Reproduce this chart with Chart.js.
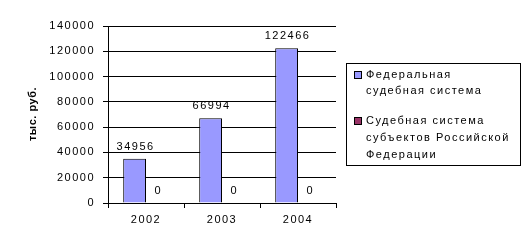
<!DOCTYPE html>
<html>
<head>
<meta charset="utf-8">
<script src="https://cdn.jsdelivr.net/npm/chart.js@4/dist/chart.umd.min.js"></script>
<style>
html,body{margin:0;padding:0;background:#fff;}
#wrap{position:relative;width:528px;height:248px;}
</style>
</head>
<body>
<div id="wrap"><canvas id="c" width="528" height="248"></canvas></div>
<script>
const categories = ['2002', '2003', '2004'];
const federalValues = [34956, 66994, 122466];
const regionalValues = [0, 0, 0];
const seriesLabels = [['Федеральная', 'судебная система'], ['Судебная система', 'субъектов Российской', 'Федерации']];
const yTickMax = 140000;
const yTickStep = 20000;
const yTitle = 'тыс. руб.';

const FONT = '"Liberation Sans", Arial, sans-serif';

const spacingPlugin = {
  id: 'spacing',
  beforeInit(chart) { chart.ctx.letterSpacing = '1.5px'; },
  beforeUpdate(chart) { chart.ctx.letterSpacing = '1.5px'; },
  beforeDraw(chart) {
    const ctx = chart.ctx;
    ctx.save();
    ctx.fillStyle = '#fff';
    ctx.fillRect(0, 0, chart.width, chart.height);
    ctx.restore();
    ctx.letterSpacing = '1.5px';
  }
};

const labelsPlugin = {
  id: 'valueLabels',
  afterDatasetsDraw(chart) {
    const ctx = chart.ctx;
    ctx.save();
    ctx.font = '11px ' + FONT;
    ctx.fillStyle = '#000';
    ctx.textAlign = 'center';
    ctx.textBaseline = 'alphabetic';
    ctx.letterSpacing = '1.5px';
    chart.data.datasets.forEach((ds, i) => {
      const meta = chart.getDatasetMeta(i);
      meta.data.forEach((bar, j) => {
        ctx.fillText(String(ds.data[j]), bar.x + 1, bar.y - 9);
      });
    });
    ctx.restore();
  },
  afterDraw(chart) {
    const ctx = chart.ctx;
    ctx.save();
    ctx.letterSpacing = '0.5px';
    ctx.font = 'bold 11px ' + FONT;
    ctx.fillStyle = '#000';
    ctx.translate(33, 114);
    ctx.rotate(-Math.PI / 2);
    ctx.textAlign = 'center';
    ctx.textBaseline = 'middle';
    ctx.fillText(yTitle, 0, 0);
    ctx.restore();

    ctx.save();
    ctx.fillStyle = '#fff';
    ctx.strokeStyle = '#000';
    ctx.lineWidth = 1;
    ctx.fillRect(346.5, 63.5, 174, 102);
    ctx.strokeRect(346.5, 63.5, 174, 102);
    ctx.font = '11px ' + FONT;
    ctx.letterSpacing = '1.5px';
    ctx.textAlign = 'left';
    ctx.textBaseline = 'middle';
    const lineCenters = [[75, 91], [121, 138, 155]];
    const markerY = [71.5, 117.5];
    chart.data.datasets.forEach((ds, i) => {
      ctx.fillStyle = ds.backgroundColor;
      ctx.fillRect(354.5, markerY[i], 7, 7);
      ctx.strokeRect(354.5, markerY[i], 7, 7);
      ctx.fillStyle = '#000';
      seriesLabels[i].forEach((line, k) => {
        ctx.fillText(line, 366, lineCenters[i][k]);
      });
    });
    ctx.restore();
  }
};

new Chart(document.getElementById('c'), {
  type: 'bar',
  data: {
    labels: categories,
    datasets: [
      { label: seriesLabels[0].join(' '), data: federalValues, backgroundColor: '#9999FF', borderColor: '#000', borderWidth: 1, categoryPercentage: 0.6, barPercentage: 1.0 },
      { label: seriesLabels[1].join(' '), data: regionalValues, backgroundColor: '#993366', borderColor: '#000', borderWidth: 1, categoryPercentage: 0.6, barPercentage: 1.0 }
    ]
  },
  options: {
    responsive: false,
    animation: false,
    devicePixelRatio: 1,
    layout: { padding: { left: 0, top: 26, right: 192, bottom: 0 } },
    plugins: { legend: { display: false }, tooltip: { enabled: false } },
    scales: {
      x: {
        afterFit(s) { s.height = 45; },
        grid: { display: true, drawOnChartArea: false, drawTicks: true, tickLength: 5, color: '#000', offset: true },
        border: { display: true, color: '#000' },
        ticks: { color: '#000', font: { family: FONT, size: 11 }, padding: 5, maxRotation: 0 }
      },
      y: {
        min: 0,
        max: yTickMax,
        afterFit(s) { s.width = 108; },
        grid: { color: '#000', tickLength: 5, drawTicks: true },
        border: { display: true, color: '#000' },
        ticks: { stepSize: yTickStep, color: '#000', font: { family: FONT, size: 11 }, padding: 8, callback: (v) => String(v) }
      }
    }
  },
  plugins: [spacingPlugin, labelsPlugin]
});
</script>
</body>
</html>
